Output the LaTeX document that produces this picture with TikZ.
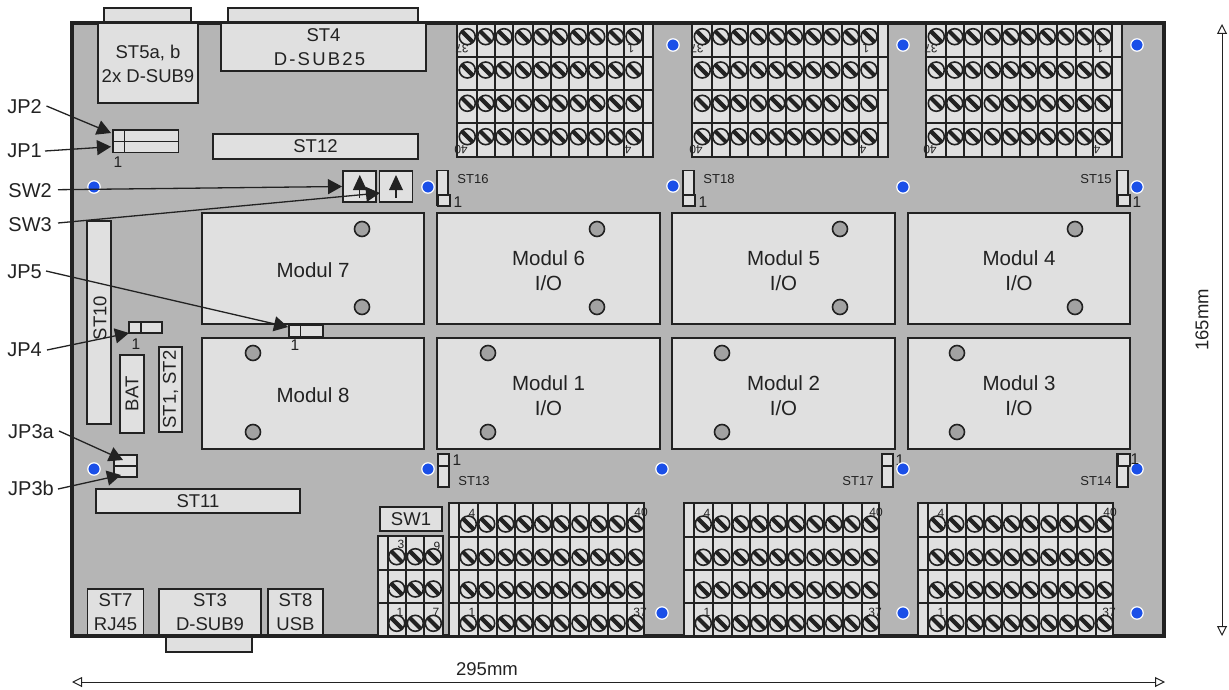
\documentclass[tikz,border=0pt]{standalone}
\usepackage{fontspec}
\setmainfont{Liberation Sans}
\usetikzlibrary{arrows.meta}
\definecolor{board}{HTML}{B5B5B5}
\definecolor{panel}{HTML}{E0E0E0}
\definecolor{ink}{HTML}{222222}
\definecolor{hole}{HTML}{A2A2A2}
\definecolor{mount}{HTML}{1A4FE8}
\tikzset{
  part/.style={draw=ink,fill=panel,line width=1.8pt},
  screw/.style={draw=ink,fill=panel,line width=1.6pt},
  slot/.style={draw=ink,line width=4.2pt},
  txt/.style={text=ink,inner sep=0pt,align=center,font=\fontsize{18.5}{24}\selectfont},
  modul/.style={txt,yshift=-2pt,font=\fontsize{20.5}{25}\selectfont},
  tag/.style={txt,yshift=-1pt,font=\fontsize{20}{24}\selectfont},
  tiny/.style={txt,font=\fontsize{12}{13}\selectfont},
  small/.style={txt,font=\fontsize{13}{15}\selectfont},
  pin/.style={txt,font=\fontsize{15.5}{18}\selectfont},
  hinweis/.style={draw=ink,line width=1.3pt,-{Triangle[length=14pt,width=15pt]}},
  dim/.style={draw=ink,line width=1pt,{Triangle[open,length=10pt,width=10pt]}-{Triangle[open,length=10pt,width=10pt]}},
  dot/.style={draw=white,fill=mount,line width=1.2pt},
}
\begin{document}
\begin{tikzpicture}[x=1pt,y=-1pt]
 \path[use as bounding box] (0,0) rectangle (1229,690);
 % connectors sticking out of the board
 \draw[part] (104,8) rectangle (191,23);
 \draw[part] (228,8) rectangle (418,23);
 \draw[part] (166,636) rectangle (252,652);
 \draw[draw=ink,fill=board,line width=3.6pt] (72,23) rectangle (1164,636);
 % front connectors
 \draw[part] (98,23) rectangle (198,103) node[midway,txt,yshift=-1pt] (st5) {ST5a, b\\2x D-SUB9};
 \draw[part] (221,23) rectangle (426,71) node[midway,txt] (st4) {ST4\\{\addfontfeature{LetterSpace=12}D-SUB25}\hspace*{8pt}};
 \draw[part] (213,134) rectangle (418,159) node[midway,txt] (st12) {ST12};
 \draw[part] (96,489) rectangle (300,513) node[midway,txt] (st11) {ST11};
 \draw[part] (87,221) rectangle (111,424);
 \node[txt,rotate=90] (st10) at (100,318) {ST10};
 \draw[part] (120,355) rectangle (144,433) node[midway,txt,rotate=90] (bat) {BAT};
 \draw[part] (159,347) rectangle (182,432) node[midway,txt,rotate=90] (st1) {ST1, ST2};
 \draw[part] (87.5,589) rectangle (143.5,635) node[midway,txt] (st7) {ST7\\RJ45};
 \draw[part] (159,589) rectangle (261,635) node[midway,txt] (st3) {ST3\\D-SUB9};
 \draw[part] (268,589) rectangle (323,635) node[midway,txt] (st8) {ST8\\USB};
 \draw[part] (380,507) rectangle (442,531) node[midway,txt] (sw1) {SW1};
 % modules
 \draw[part] (202,213) rectangle (424,324) node[midway,modul] (m7) {Modul 7};
 \draw[part] (437,213) rectangle (660,324) node[midway,modul] (m6) {Modul 6\\I/O};
 \draw[part] (672,213) rectangle (895,324) node[midway,modul] (m5) {Modul 5\\I/O};
 \draw[part] (908,213) rectangle (1130,324) node[midway,modul] (m4) {Modul 4\\I/O};
 \draw[part] (202,338) rectangle (424,449) node[midway,modul] (m8) {Modul 8};
 \draw[part] (437,338) rectangle (660,449) node[midway,modul] (m1) {Modul 1\\I/O};
 \draw[part] (672,338) rectangle (895,449) node[midway,modul] (m2) {Modul 2\\I/O};
 \draw[part] (908,338) rectangle (1130,449) node[midway,modul] (m3) {Modul 3\\I/O};
 \foreach \x in {362,597,840,1075}
   \foreach \y in {229,307}
     \draw[screw,fill=hole] (\x,\y) circle (7.5);
 \foreach \x in {253,488,722,957}
   \foreach \y in {353,432}
     \draw[screw,fill=hole] (\x,\y) circle (7.5);
 % terminal blocks, top row
 \foreach \off in {0,235,469} {
  \begin{scope}[xshift=\off]
    \draw[part] (457,24) rectangle (653,157);
    \foreach \x in {477,495,513,533,551,569,588,607,624,643}
      \draw[part] (\x,24) -- (\x,157);
    \foreach \y in {57,90,123}
      \draw[part] (457,\y) -- (653,\y);
    \foreach \x in {467.3,485.7,504,523.3,541.7,559.3,578.3,596.7,615.7,634}
      \foreach \y in {36.7,70,103.3,136.7} {
        \draw[screw] (\x,\y) circle (8);
        \draw[slot] (\x-5.6,\y-5.6) -- (\x+5.6,\y+5.6);
      }
    \node[tiny,rotate=180] (ta\off) at (462,49) {37};
    \node[tiny,rotate=180] (tb\off) at (631,49) {1};
    \node[tiny,rotate=180] (tc\off) at (461,150) {40};
    \node[tiny,rotate=180] (td\off) at (628,150) {4};
  \end{scope}
 }
 % terminal blocks, bottom row
 \foreach \off in {0,235,469} {
  \begin{scope}[xshift=\off]
    \draw[part] (449,503) rectangle (644,636);
    \foreach \x in {459,478,497,515,533,552,570,589,608,627}
      \draw[part] (\x,503) -- (\x,636);
    \foreach \y in {537,570,603}
      \draw[part] (449,\y) -- (644,\y);
    \foreach \x in {468.3,486.7,505.7,524.3,542.7,561.3,580,598.7,617,635.7}
      \foreach \y in {524,557.3,590,623.3} {
        \draw[screw] (\x,\y) circle (8);
        \draw[slot] (\x-5.6,\y-5.6) -- (\x+5.6,\y+5.6);
      }
    \node[tiny] (ba\off) at (472,513) {4};
    \node[tiny] (bb\off) at (641,512) {40};
    \node[tiny] (bc\off) at (472,612) {1};
    \node[tiny] (bd\off) at (640,612) {37};
  \end{scope}
 }
 % small terminal block
 \draw[part] (378,536) rectangle (443,636);
 \foreach \x in {388,406,424}
   \draw[part] (\x,536) -- (\x,636);
 \foreach \y in {570,603}
   \draw[part] (378,\y) -- (443,\y);
 \foreach \x in {396.7,415.3,433.3}
   \foreach \y in {556.7,589,623.3} {
     \draw[screw] (\x,\y) circle (8);
     \draw[slot] (\x-5.6,\y-5.6) -- (\x+5.6,\y+5.6);
   }
 \node[tiny] (sa) at (401,544) {3};
 \node[tiny] (sb) at (437,546) {9};
 \node[tiny] (sc) at (400,612) {1};
 \node[tiny] (sd) at (436,612) {7};
 % jumpers
 \draw[part] (113,130) rectangle (178.5,152.5);
 \draw[part] (113,141.5) -- (178.5,141.5);
 \draw[part] (124.5,130) -- (124.5,152.5);
 \node[pin] (p1) at (118,162) {1};
 \draw[part] (129,322) rectangle (162,333);
 \draw[part] (141,322) -- (141,333);
 \node[pin] (p4) at (136,344) {1};
 \draw[part] (289,325) rectangle (323,337);
 \draw[part] (300.5,325) -- (300.5,337);
 \node[pin] (p5) at (295,345) {1};
 \draw[part] (114,455) rectangle (137,477);
 \draw[part] (114,466) -- (137,466);
 % switches
 \foreach \x/\n in {343.3/a,379.5/b} {
   \draw[part] (\x,170.7) rectangle ++(33,31.6);
   \coordinate (sw\n) at (\x+16.5,198);
   \draw[draw=ink,line width=1.2pt] (sw\n) -- ++(0,-10);
   \fill[ink] (\x+16.5,175) -- (\x+23.5,190) -- (\x+9.5,190) -- cycle;
 }
 % pin headers
 \foreach \x/\a/\b in {437/170.5/205,683/170.5/206,1117/170.5/206}
   \draw[part] (\x,\a) rectangle (\x+11,\b);
 \draw[part] (438,194.7) rectangle (450,206);
 \draw[part] (683,195) rectangle (695,206);
 \draw[part] (1118,195) rectangle (1130,206);
 \foreach \x in {438,882,1117}
   \draw[part] (\x,454) rectangle (\x+11,487);
 \draw[part] (438,454) rectangle (449,466);
 \draw[part] (882,454) rectangle (893,466);
 \draw[part] (1118,454) rectangle (1130,466);
 \node[pin] (n16) at (458,202) {1};
 \node[pin] (n18) at (703,202) {1};
 \node[pin] (n15) at (1137,202) {1};
 \node[pin] (n13) at (457,460) {1};
 \node[pin] (n17) at (900,460) {1};
 \node[small] (l16) at (473,179) {ST16};
 \node[small] (l18) at (719,179) {ST18};
 \node[small] (l15) at (1096,179) {ST15};
 \node[small] (l13) at (474,481) {ST13};
 \node[small] (l17) at (858,481) {ST17};
 \node[small] (l14) at (1096,481) {ST14};
 % mounting holes
 \foreach \x/\y in {94/187,428/187,673/186,903/187,1137/187,673/45,903/45,1137/45,
   94/469,428/469,662/469,903/469,1137/469,662/613,903/613,1137/613}
   \draw[dot] (\x,\y) circle (6.2);
 \node[pin] (n14) at (1135,459) {1};
 % callouts
 \node[tag,anchor=east] (jp2) at (42,106) {JP2};
 \node[tag,anchor=east] (jp1) at (42,150) {JP1};
 \node[tag,anchor=east] (sw2) at (52,190) {SW2};
 \node[tag,anchor=east] (sw3) at (52,224) {SW3};
 \node[tag,anchor=east] (jp5) at (42,271) {JP5};
 \node[tag,anchor=east] (jp4) at (42,349) {JP4};
 \node[tag,anchor=east] (jp3a) at (54,431) {JP3a};
 \node[tag,anchor=east] (jp3b) at (54,487) {JP3b};
 \coordinate (jp2e) at (111,133);
 \coordinate (jp1e) at (111,146.7);
 \coordinate (sw2e) at (342,186.5);
 \coordinate (sw3e) at (380,193);
 \coordinate (jp5e) at (288,327);
 \coordinate (jp4e) at (129,333);
 \coordinate (jp3ae) at (123,460);
 \coordinate (jp3be) at (121,475);
 \draw[hinweis] (jp2.east) ++(4.5,-1) -- (jp2e);
 \draw[hinweis] (jp1.east) ++(3,0) -- (jp1e);
 \draw[hinweis] (sw2.east) ++(6,-1.3) -- (sw2e);
 \draw[hinweis] (sw3.east) ++(6,-2) -- (sw3e);
 \draw[hinweis] (jp5.east) ++(4,-1) -- (jp5e);
 \draw[hinweis] (jp4.east) ++(5,0) -- (jp4e);
 \draw[hinweis] (jp3a.east) ++(5,-1) -- (jp3ae);
 \draw[hinweis] (jp3b.east) ++(4,1) -- (jp3be);
 % dimensions
 \coordinate (hl) at (72,682);
 \coordinate (hr) at (1165,682);
 \coordinate (vt) at (1222,24);
 \coordinate (vb) at (1222,636);
 \draw[dim] (hl) -- (hr);
 \draw[dim] (vt) -- (vb);
 \node[txt] (breite) at (487,669) {295mm};
 \node[txt,rotate=90] (hoehe) at (1202,320) {165mm};
\end{tikzpicture}
\end{document}
